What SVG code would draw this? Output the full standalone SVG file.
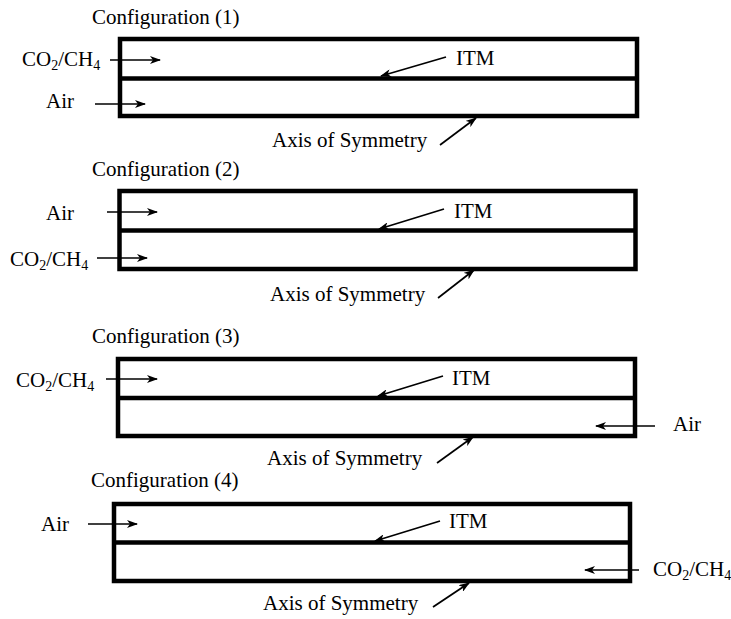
<svg xmlns="http://www.w3.org/2000/svg" width="731" height="619" viewBox="0 0 731 619">
<defs>
<style>
text{font-family:"Liberation Serif","Times New Roman",serif;font-size:21px;fill:#000}
.sub{font-size:14px}
.box{fill:none;stroke:#000;stroke-width:4.5}
.div{stroke:#000;stroke-width:4.5}
.arr{stroke:#000;stroke-width:1.7;fill:none;marker-end:url(#ah)}
</style>
<marker id="ah" markerUnits="userSpaceOnUse" viewBox="0 0 11 8" markerWidth="11" markerHeight="8" refX="10" refY="4" orient="auto">
<path d="M0,0 L11,4 L0,8 L3,4 Z" fill="#000"/>
</marker>
</defs>
<rect width="731" height="619" fill="#fff"/>

<g id="config1">
<text x="92" y="24">Configuration (1)</text>
<rect class="box" x="120" y="39" width="517" height="77"/>
<line class="div" x1="120" y1="78.5" x2="637" y2="78.5"/>
<text x="22" y="66">CO<tspan class="sub" dy="4">2</tspan><tspan dy="-4">/CH</tspan><tspan class="sub" dy="4">4</tspan></text>
<text x="46" y="108">Air</text>
<text x="456" y="65">ITM</text>
<text x="272" y="147">Axis of Symmetry</text>
</g>

<g id="config2">
<text x="92" y="176">Configuration (2)</text>
<rect class="box" x="119.5" y="191" width="516" height="78"/>
<line class="div" x1="119.5" y1="230.5" x2="635.5" y2="230.5"/>
<text x="46" y="220">Air</text>
<text x="10" y="266">CO<tspan class="sub" dy="4">2</tspan><tspan dy="-4">/CH</tspan><tspan class="sub" dy="4">4</tspan></text>
<text x="454" y="218">ITM</text>
<text x="270" y="301">Axis of Symmetry</text>
</g>

<g id="config3">
<text x="92" y="343">Configuration (3)</text>
<rect class="box" x="118" y="359" width="517" height="77"/>
<line class="div" x1="118" y1="398" x2="635" y2="398"/>
<text x="16" y="387">CO<tspan class="sub" dy="4">2</tspan><tspan dy="-4">/CH</tspan><tspan class="sub" dy="4">4</tspan></text>
<text x="673" y="431">Air</text>
<text x="452" y="385">ITM</text>
<text x="267" y="465">Axis of Symmetry</text>
</g>

<g id="config4">
<text x="91" y="487">Configuration (4)</text>
<rect class="box" x="114" y="504" width="516" height="77"/>
<line class="div" x1="114" y1="542.5" x2="630" y2="542.5"/>
<text x="41" y="531">Air</text>
<text x="653" y="576">CO<tspan class="sub" dy="4">2</tspan><tspan dy="-4">/CH</tspan><tspan class="sub" dy="4">4</tspan></text>
<text x="449" y="528">ITM</text>
<text x="263" y="610">Axis of Symmetry</text>
</g>

<g id="connectors">
<line class="arr" x1="110" y1="60" x2="160" y2="60"/>
<line class="arr" x1="95" y1="104" x2="145" y2="104"/>
<line class="arr" x1="446" y1="57" x2="381" y2="76"/>
<line class="arr" x1="440" y1="145" x2="476" y2="118"/>

<line class="arr" x1="107" y1="212" x2="157" y2="212"/>
<line class="arr" x1="97" y1="258" x2="147" y2="258"/>
<line class="arr" x1="444" y1="209" x2="379" y2="229"/>
<line class="arr" x1="438" y1="298" x2="474" y2="270"/>

<line class="arr" x1="106" y1="379" x2="157" y2="379"/>
<line class="arr" x1="655" y1="426" x2="596" y2="426"/>
<line class="arr" x1="443" y1="376" x2="378" y2="396"/>
<line class="arr" x1="437" y1="463" x2="473" y2="437"/>

<line class="arr" x1="88" y1="524" x2="137" y2="524"/>
<line class="arr" x1="639" y1="570" x2="585" y2="570"/>
<line class="arr" x1="440" y1="521" x2="375" y2="541"/>
<line class="arr" x1="433" y1="607" x2="469" y2="583"/>
</g>
</svg>
